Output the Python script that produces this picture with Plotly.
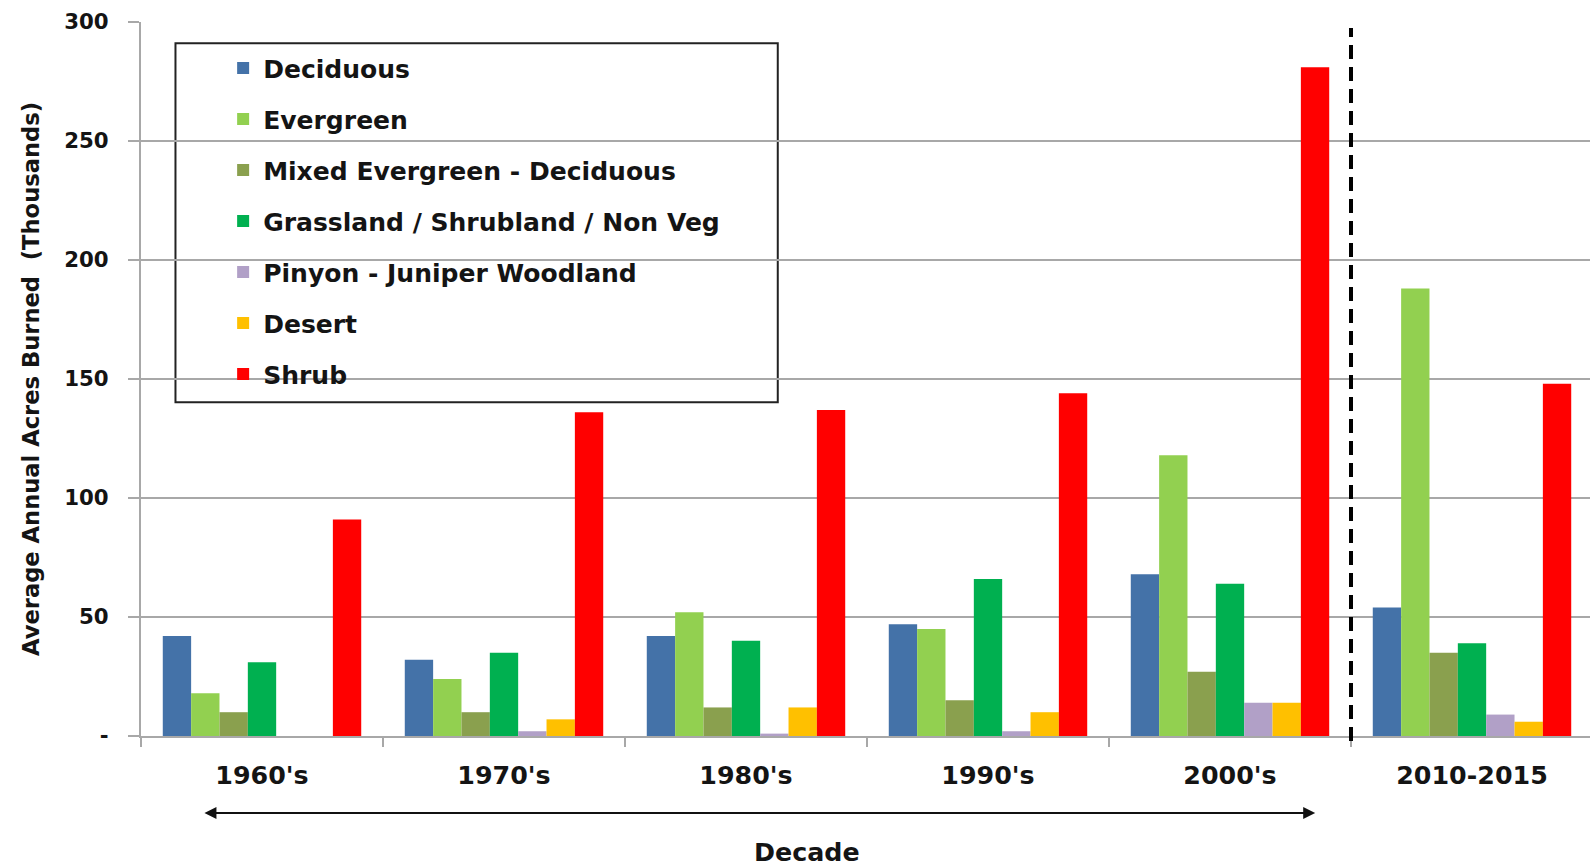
import plotly.graph_objects as go

decades = ["1960's", "1970's", "1980's", "1990's", "2000's", "2010-2015"]

deciduous = [42, 32, 42, 47, 68, 54]
evergreen = [18, 24, 52, 45, 118, 188]
mixed = [10, 10, 12, 15, 27, 35]
grassland = [31, 35, 40, 66, 64, 39]
pinyon = [0, 2, 1, 2, 14, 9]
desert = [0, 7, 12, 10, 14, 6]
shrub = [91, 136, 137, 144, 281, 148]

series_names = [
    "Deciduous",
    "Evergreen",
    "Mixed Evergreen - Deciduous",
    "Grassland / Shrubland / Non Veg",
    "Pinyon - Juniper Woodland",
    "Desert",
    "Shrub",
]
series_values = [deciduous, evergreen, mixed, grassland, pinyon, desert, shrub]
series_colors = ["#4472A8", "#92D050", "#8AA04E", "#00B050", "#B1A0C7", "#FFC000", "#FF0000"]

y_tickvals = [0, 50, 100, 150, 200, 250, 300]
y_ticktext = ["-", "50", "100", "150", "200", "250", "300"]

FONT = "DejaVu Sans"
TXT = "#141414"
GRID = "#a8a8a8"

# target picture geometry (px) and render scale compensation
W0, H0 = 1590, 864
K = 1.0139
L, R, T, B = 139, 19, 22, 138
PW, PH = W0 - L - R, H0 - T - B


def k(v):
    return v * K


def px_x(px):
    return (px - L) / PW


def px_y(py):
    return (H0 - B - py) / PH


fig = go.Figure()
for i, (name, vals, col) in enumerate(zip(series_names, series_values, series_colors)):
    fig.add_trace(go.Bar(
        x=decades, y=vals, name=name, marker=dict(color=col, line=dict(width=0)),
        legendgroup=f"g{i}",
    ))

fig.update_layout(
    width=round(k(W0)), height=round(k(H0)),
    margin=dict(l=k(L), r=k(R), t=k(T), b=k(B), autoexpand=False),
    paper_bgcolor="white", plot_bgcolor="white",
    barmode="group", bargap=0.18, bargroupgap=0,
    font=dict(family=FONT, color=TXT),
    showlegend=True,
    legend=dict(
        x=px_x(220), y=px_y(45), xanchor="left", yanchor="top",
        bgcolor="rgba(0,0,0,0)", borderwidth=0,
        font=dict(family=FONT, size=k(24.7), color=TXT, weight="bold"),
        tracegroupgap=k(15.2), itemwidth=30,
    ),
    xaxis=dict(
        range=[-0.5, 5.5], automargin=False,
        showgrid=False, showline=True, linecolor=GRID, linewidth=2,
        ticks="outside", tickson="boundaries", ticklen=k(9), tickcolor=GRID, tickwidth=2,
        tickfont=dict(family=FONT, size=k(25), color=TXT, weight="bold"),
        ticklabelstandoff=round(k(16)),
    ),
    yaxis=dict(
        range=[0, 300], automargin=False,
        tickvals=y_tickvals, ticktext=y_ticktext,
        showgrid=True, gridcolor=GRID, gridwidth=2,
        showline=True, linecolor=GRID, linewidth=2,
        ticks="outside", ticklen=k(11), tickcolor=GRID, tickwidth=2,
        tickfont=dict(family=FONT, size=k(21), color=TXT, weight="bold"),
        ticklabelstandoff=round(k(15)),
        zeroline=False,
        title=dict(text="Average Annual Acres Burned  (Thousands)",
                   font=dict(family=FONT, size=k(22.3), color=TXT, weight="bold"), standoff=round(k(18))),
    ),
)

# x-axis title, centred under the historical decades as in the original
fig.add_annotation(x=px_x(796), y=px_y(840), xref="paper", yref="paper", text="<b>Decade</b>",
                   showarrow=False, xanchor="center", yanchor="middle",
                   font=dict(family=FONT, size=k(25), color=TXT))

# Legend box
fig.add_shape(type="rect", xref="paper", yref="paper",
              x0=px_x(173), x1=px_x(767), y0=px_y(397), y1=px_y(43),
              line=dict(color="#222222", width=2), fillcolor="white", layer="below")

# Dashed separator between 2000's and 2010-2015
fig.add_shape(type="line", xref="x", yref="paper", x0=4.5, x1=4.5, y0=px_y(731), y1=px_y(28),
              line=dict(color="black", width=4, dash="14px,8px"))

# Double-headed arrow under the decades
fig.add_annotation(x=px_x(1297), y=px_y(802), xref="paper", yref="paper",
                   ax=-k(1297 - 200), ay=0, axref="pixel", ayref="pixel",
                   text="", showarrow=True, arrowhead=2, startarrowhead=2, arrowside="end+start",
                   arrowsize=1.2, startarrowsize=1.2, arrowwidth=2, arrowcolor="#111111")

fig.write_html("out.html", config={"displayModeBar": False},
               post_script="document.body.style.margin='0';document.body.style.overflow='hidden';")
